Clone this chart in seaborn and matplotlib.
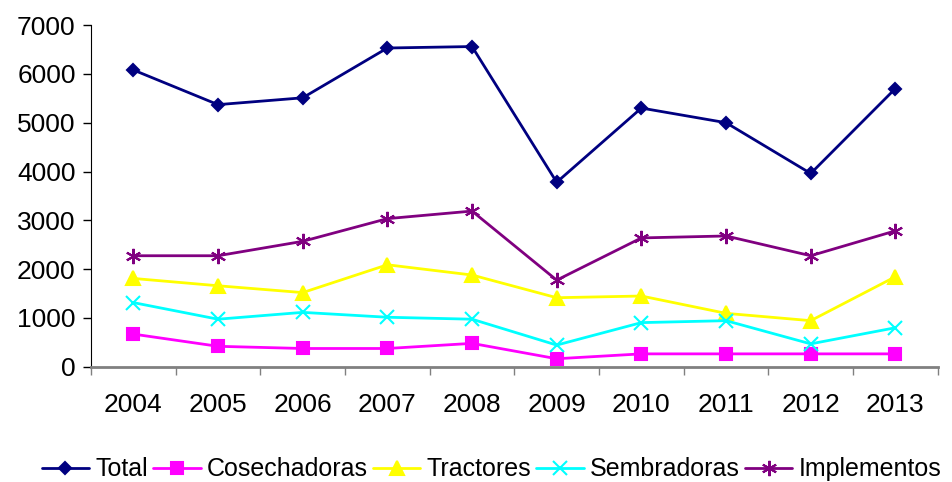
import numpy as np
import pandas as pd
import seaborn as sns
import matplotlib.pyplot as plt
from matplotlib.ticker import FixedLocator

# data
years = ["2004", "2005", "2006", "2007", "2008", "2009", "2010", "2011", "2012", "2013"]
total = [6080, 5370, 5510, 6530, 6560, 3780, 5300, 5000, 3960, 5700]
cosechadoras = [670, 420, 375, 375, 480, 165, 265, 265, 265, 265]
tractores = [1810, 1660, 1520, 2090, 1880, 1415, 1450, 1095, 945, 1845]
sembradoras = [1315, 975, 1115, 1015, 975, 445, 905, 945, 470, 800]
implementos = [2275, 2275, 2570, 3035, 3190, 1775, 2640, 2680, 2275, 2785]

series = ["Total", "Cosechadoras", "Tractores", "Sembradoras", "Implementos"]
values = [total, cosechadoras, tractores, sembradoras, implementos]

df = pd.DataFrame({
    "year": years * len(series),
    "serie": np.repeat(series, len(years)),
    "valor": np.concatenate(values),
})

colors = {"Total": "#000080", "Cosechadoras": "#FF00FF", "Tractores": "#FFFF00",
          "Sembradoras": "#00FFFF", "Implementos": "#800080"}
markers = {"Total": "D", "Cosechadoras": "s", "Tractores": "^",
           "Sembradoras": "x", "Implementos": (6, 2, 0)}
sizes = {"Total": 6, "Cosechadoras": 8, "Tractores": 10, "Sembradoras": 10, "Implementos": 11}

sns.set_style("white")
plt.rcParams['font.family'] = ['Liberation Sans', 'DejaVu Sans']
plt.rcParams['text.color'] = 'black'
plt.rcParams['xtick.color'] = 'black'
plt.rcParams['ytick.color'] = 'black'

fig = plt.figure(figsize=(9.52, 4.82), dpi=100)
ax = fig.add_axes([0.0956, 0.239, 0.8894, 0.709])

for s in series:
    sub = df[df["serie"] == s]
    sns.lineplot(data=sub, x="year", y="valor", ax=ax, color=colors[s],
                 marker=markers[s], markersize=sizes[s], markeredgewidth=1.5,
                 markeredgecolor=colors[s], linewidth=2, label=s, sort=False)

ax.set_xlim(-0.5, len(years) - 0.5)
ax.set_ylim(0, 7000)
ax.set_yticks(range(0, 7001, 1000))
ax.set_xlabel("")
ax.set_ylabel("")

ax.xaxis.set_minor_locator(FixedLocator(np.arange(-0.5, len(years), 1)))
ax.tick_params(axis="x", which="major", length=0, pad=19, labelsize=19, labelcolor="black")
ax.tick_params(axis="x", which="minor", length=6, width=1, color="#808080", direction="out")
ax.tick_params(axis="y", which="major", length=6, width=1, color="black", direction="out",
               labelsize=19, pad=5, labelcolor="black")
ax.tick_params(bottom=True, left=True, which="both")

for side in ["top", "right"]:
    ax.spines[side].set_visible(False)
ax.spines["left"].set_color("black")
ax.spines["bottom"].set_color("#808080")
ax.spines["bottom"].set_linewidth(2)

ax.legend(loc="center", bbox_to_anchor=(0.473, -0.3), ncol=5, frameon=False,
          fontsize=18, handlelength=1.9, handletextpad=0.25, columnspacing=0.2,
          borderaxespad=0)

fig.savefig("out.png", dpi=100)
